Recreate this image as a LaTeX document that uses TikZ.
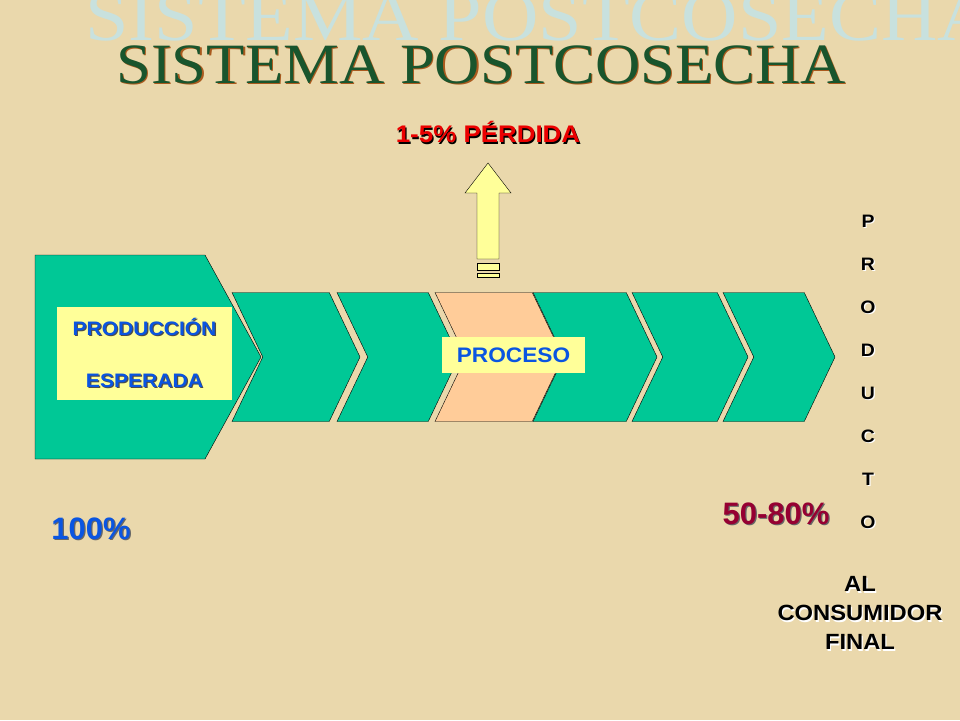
\documentclass[tikz,border=0pt]{standalone}
\usepackage{fontspec}
\setmainfont{Liberation Sans}
\newfontfamily\widesans[FakeStretch=1.08]{Liberation Sans}
\newfontfamily\titlefont[FakeStretch=1.1]{Liberation Serif}
\usetikzlibrary{shapes.symbols}
\definecolor{parchment}{RGB}{234,216,172}
\definecolor{stepgreen}{RGB}{0,200,150}
\definecolor{peach}{RGB}{255,204,153}
\definecolor{paleyellow}{RGB}{255,255,153}
\definecolor{labelblue}{RGB}{10,85,225}
\definecolor{lossred}{RGB}{235,0,0}
\definecolor{maroon}{RGB}{150,0,50}
\definecolor{titlegreen}{RGB}{25,85,45}
\definecolor{titlebrown}{RGB}{170,90,30}
\definecolor{ghostblue}{RGB}{200,225,222}
% text with a small drop shadow
\newcommand{\shtxt}[3]{\leavevmode\rlap{\kern1.2pt\raisebox{-1.2pt}{\color{#2}#3}}{\color{#1}#3}}
\tikzset{
  chevron/.style={
    signal, signal to=east, signal from=west, signal pointer angle=129,
    draw=black, fill=stepgreen, inner sep=0pt, minimum height=129pt
  },
  bigchevron/.style={draw=black, fill=stepgreen},
  labelbox/.style={
    rectangle, fill=paleyellow, inner sep=0pt, align=center
  },
  lossarrow/.style={draw=black, fill=paleyellow},
  bar/.style={rectangle, draw=black, fill=paleyellow, inner sep=0pt, minimum width=22pt},
  letter/.style={font=\widesans\fontsize{18}{18}\selectfont\bfseries, inner sep=0pt}
}

\begin{document}
\begin{tikzpicture}[x=1pt, y=-1pt]

\useasboundingbox (0,0) rectangle (960,720);
\clip (0,0) rectangle (960,720);
\fill[parchment] (0,0) rectangle (960,720);

% Titles
\node[anchor=base west, inner sep=0pt, text=ghostblue,
  font=\titlefont\fontsize{71}{71}\selectfont] (ghost) at (85,40) {SISTEMA POSTCOSECHA};
\node[anchor=base west, inner sep=0pt,
  font=\titlefont\fontsize{57}{57}\selectfont] (title) at (116,83)
  {\shtxt{titlegreen}{titlebrown}{SISTEMA POSTCOSECHA}};

% Chevron chain
\draw[bigchevron] (35,255) -- (205,255) -- (261,357) -- (205,459) -- (35,459) -- cycle;
\foreach \n/\x/\w/\c in {2/296/128/stepgreen, 3/398/122/stepgreen, 4/499/128/peach,
                         5/595/124/stepgreen, 6/690/116/stepgreen, 7/779/112/stepgreen}
  \node[chevron, minimum width=\w pt, fill=\c] (c\n) at (\x,357) {};

% Labels on the chain
\node[labelbox, minimum width=175pt, minimum height=93pt,
  font=\widesans\fontsize{19.5}{52}\selectfont\bfseries] (prod) at (144.5,353.5)
  {\shtxt{labelblue}{black!70}{PRODUCCIÓN}\\\shtxt{labelblue}{black!70}{ESPERADA}};
\node[labelbox, minimum width=143pt, minimum height=36pt,
  font=\widesans\fontsize{21}{21}\selectfont\bfseries, text=labelblue] (proc) at (513.5,355) {PROCESO};

% Loss arrow
\coordinate (loss) at (488,163);
\draw[lossarrow] (477,259) -- (477,193) -- (465,193) -- (loss) -- (511,193)
  -- (499,193) -- (499,259) -- cycle;
\node[bar, minimum height=7pt] (bar1) at (488,266.5) {};
\node[bar, minimum height=4pt] (bar2) at (488,275) {};
\node[font=\widesans\fontsize{24}{24}\selectfont\bfseries] (lossval) at (488,133)
  {\shtxt{lossred}{black}{1-5\% PÉRDIDA}};

% Percentages
\node[font=\fontsize{31}{31}\selectfont\bfseries] (full) at (91,529)
  {\shtxt{labelblue}{black!60}{100\%}};
\node[font=\fontsize{31}{31}\selectfont\bfseries] (part) at (776,514)
  {\shtxt{maroon}{black!60}{50-80\%}};

% PRODUCTO column
\foreach \l [count=\i] in {P,R,O,D,U,C,T,O}
  \node[letter] (p\i) at (868,{222+(\i-1)*43}) {\shtxt{black}{white}{\l}};

\node[align=center, font=\widesans\fontsize{22}{29}\selectfont\bfseries] (final) at (860,614)
  {\shtxt{black}{white}{AL}\\\shtxt{black}{white}{CONSUMIDOR}\\\shtxt{black}{white}{FINAL}};

\end{tikzpicture}
\end{document}
